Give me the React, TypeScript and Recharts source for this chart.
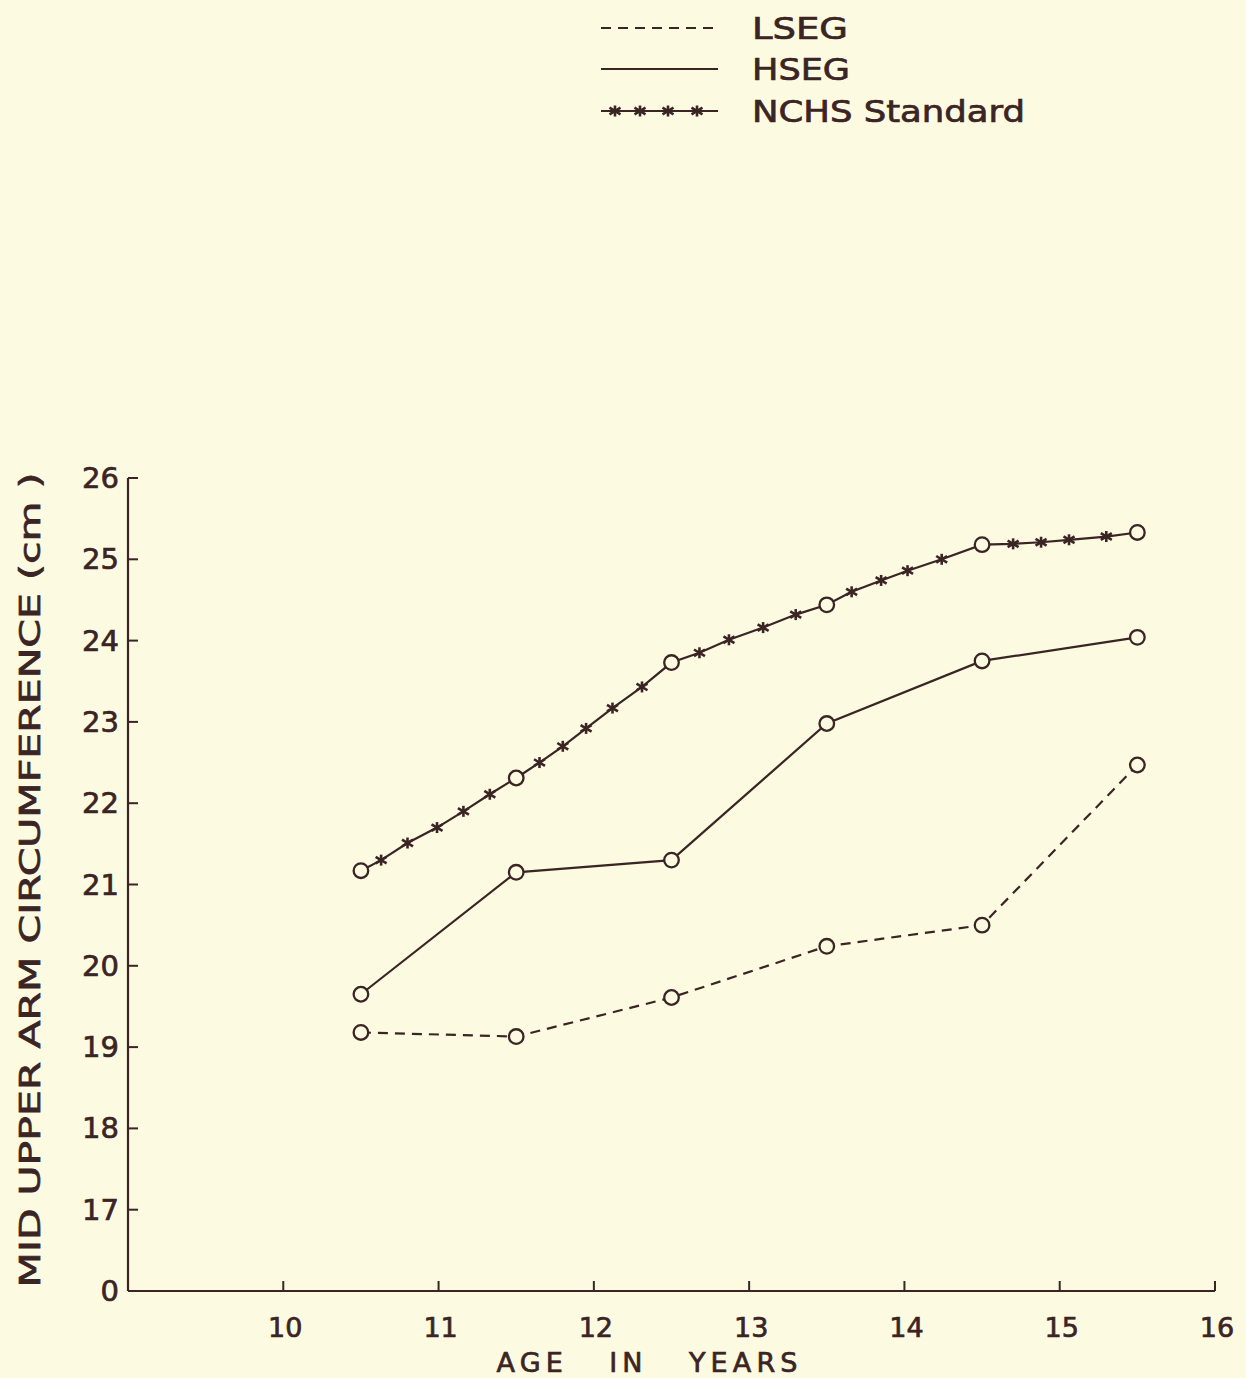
import { LineChart, Line, XAxis, YAxis, Legend } from 'recharts';

// ages in years (half-year points carry the open circles)
const ages = [10.5, 11.5, 12.5, 13.5, 14.5, 15.5];
const lseg = [19.18, 19.13, 19.61, 20.24, 20.5, 22.47];
const hseg = [19.65, 21.15, 21.3, 22.98, 23.75, 24.04];

// NCHS standard, read at every marker (circles + stars)
const nchsAges = [
  10.5, 10.63, 10.8, 10.99, 11.16, 11.33, 11.5, 11.65, 11.8, 11.95, 12.12, 12.31, 12.5, 12.68,
  12.87, 13.09, 13.3, 13.5, 13.66, 13.85, 14.02, 14.24, 14.5, 14.7, 14.88, 15.06, 15.3, 15.5,
];
const nchs = [
  21.17, 21.3, 21.51, 21.7, 21.9, 22.11, 22.31, 22.5, 22.7, 22.92, 23.17, 23.43, 23.73, 23.85,
  24.01, 24.16, 24.32, 24.44, 24.6, 24.74, 24.86, 25.0, 25.18, 25.19, 25.21, 25.24, 25.28, 25.33,
];

const xTicks = [10, 11, 12, 13, 14, 15, 16];
const yTicks = [16, 17, 18, 19, 20, 21, 22, 23, 24, 25, 26];
// the axis is broken: the bottom tick stands for 0
const yLabel = (v: number) => (v === 16 ? '0' : String(v));

const lsegData = ages.map((a, i) => ({ age: a, v: lseg[i] }));
const hsegData = ages.map((a, i) => ({ age: a, v: hseg[i] }));
const nchsData = nchsAges.map((a, i) => ({ age: a, v: nchs[i] }));

const INK = '#3b2424';
const PAPER = '#fcfbe2';
const FONT = 'DejaVu Sans, sans-serif';
const LEGEND_H = 140;
// slightly heavier lettering, like the hand-stencilled original
const txt = { fill: INK, stroke: INK, strokeWidth: 0.7, fontFamily: FONT };

function Star({ x, y }: { x: number; y: number }) {
  const r = 5.5;
  return (
    <g stroke={INK} strokeWidth={2.6}>
      <line x1={x - r} y1={y - r * 0.6} x2={x + r} y2={y + r * 0.6} />
      <line x1={x - r} y1={y + r * 0.6} x2={x + r} y2={y - r * 0.6} />
      <line x1={x} y1={y - r} x2={x} y2={y + r} />
    </g>
  );
}

const circleDot = (p: any) => (
  <circle key={`c-${p.index}`} cx={p.cx} cy={p.cy} r={7.3} fill={PAPER} stroke={INK} strokeWidth={2.3} />
);

const nchsDot = (p: any) =>
  ages.includes(p.payload.age) ? (
    circleDot(p)
  ) : (
    <g key={`s-${p.index}`}>
      <Star x={p.cx} y={p.cy} />
    </g>
  );

const YTick = ({ x, y, payload }: any) => (
  <g>
    {payload.value !== 16 && <line x1={x} x2={x + 10} y1={y} y2={y} stroke={INK} strokeWidth={2} />}
    <text x={x - 9} y={y} dy={10} textAnchor="end" fontSize={29} {...txt}>
      {yLabel(payload.value)}
    </text>
  </g>
);

const XTick = ({ x, y, payload }: any) => (
  <g>
    <line x1={x} x2={x} y1={y} y2={y - 10} stroke={INK} strokeWidth={2} />
    <text x={x + 2} y={y + 46} textAnchor="middle" fontSize={27} {...txt}>
      {payload.value}
    </text>
  </g>
);

function LegendBox() {
  const rows = [
    { name: 'LSEG', y: 28, len: 96, dash: '10 7' },
    { name: 'HSEG', y: 69, len: 98, dash: undefined },
    { name: 'NCHS Standard', y: 111, len: 273, dash: undefined },
  ];
  return (
    <svg width={460} height={LEGEND_H} style={{ display: 'block' }}>
      {rows.map((r, i) => (
        <g key={r.name}>
          <line x1={6} x2={123} y1={r.y} y2={r.y} stroke={INK} strokeWidth={2.2} strokeDasharray={r.dash} />
          {i === 2 && [20, 45, 73, 102].map((sx) => <Star key={sx} x={sx} y={r.y} />)}
          <text x={157} y={r.y + 11} fontSize={30} {...txt} textLength={r.len} lengthAdjust="spacingAndGlyphs">
            {r.name}
          </text>
        </g>
      ))}
    </svg>
  );
}

export default function App() {
  return (
    <div style={{ position: 'absolute', left: 0, top: 0, width: 1246, height: 1378, background: PAPER }}>
      <LineChart width={1246} height={1378} margin={{ top: 478 - LEGEND_H, right: 31, bottom: 27, left: 68 }}>
        <XAxis
          type="number"
          dataKey="age"
          domain={[9, 16]}
          ticks={xTicks}
          tick={<XTick />}
          tickLine={false}
          tickSize={0}
          tickMargin={0}
          height={60}
          axisLine={{ stroke: INK, strokeWidth: 2.2 }}
          allowDuplicatedCategory={false}
        />
        <YAxis
          type="number"
          domain={[16, 26]}
          ticks={yTicks}
          tick={<YTick />}
          tickLine={false}
          tickSize={0}
          tickMargin={0}
          width={60}
          interval={0}
          axisLine={{ stroke: INK, strokeWidth: 2.2 }}
        />
        <Legend
          verticalAlign="top"
          content={() => <LegendBox />}
          wrapperStyle={{ position: 'absolute', top: 0, left: 595, width: 460 }}
        />
        <Line
          data={nchsData}
          dataKey="v"
          name="NCHS Standard"
          stroke={INK}
          strokeWidth={2.2}
          dot={nchsDot}
          isAnimationActive={false}
        />
        <Line
          data={hsegData}
          dataKey="v"
          name="HSEG"
          stroke={INK}
          strokeWidth={2.2}
          dot={circleDot}
          isAnimationActive={false}
        />
        <Line
          data={lsegData}
          dataKey="v"
          name="LSEG"
          stroke={INK}
          strokeWidth={2.2}
          strokeDasharray="10 7"
          dot={circleDot}
          isAnimationActive={false}
        />
      </LineChart>
      <svg width={1246} height={1378} style={{ position: 'absolute', left: 0, top: 0, pointerEvents: 'none' }}>
        <text
          transform="translate(40, 880) rotate(-90)"
          textAnchor="middle"
          fontSize={29}
          {...txt}
          textLength={815}
          lengthAdjust="spacingAndGlyphs"
        >
          MID UPPER ARM CIRCUMFERENCE (cm )
        </text>
        <text
          x={647}
          y={1372}
          textAnchor="middle"
          fontSize={27}
          {...txt}
          textLength={301}
          lengthAdjust="spacing"
          style={{ whiteSpace: 'pre' }}
        >
          AGE   IN   YEARS
        </text>
      </svg>
    </div>
  );
}
